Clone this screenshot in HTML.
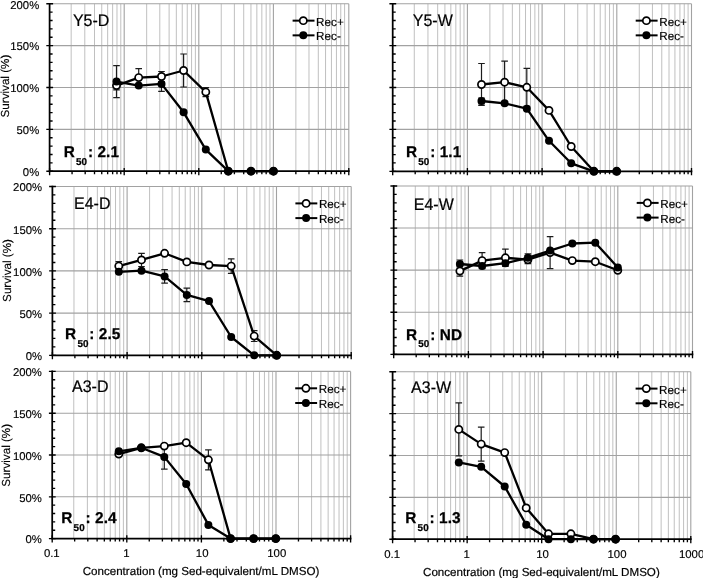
<!DOCTYPE html>
<html><head><meta charset="utf-8"><title>Survival curves</title>
<style>html,body{margin:0;padding:0;background:#fff}svg{display:block}</style></head>
<body>
<svg width="703" height="578" viewBox="0 0 703 578" font-family="'Liberation Sans', sans-serif" text-rendering="geometricPrecision">
<rect width="703" height="578" fill="#fff"/>
<g>
<path d="M71.16 3.75V171.2M84.79 3.75V171.2M94.51 3.75V171.2M101.74 3.75V171.2M107.65 3.75V171.2M112.64 3.75V171.2M116.97 3.75V171.2M120.79 3.75V171.2M146.66 3.75V171.2M159.79 3.75V171.2M169.11 3.75V171.2M176.34 3.75V171.2M182.25 3.75V171.2M187.24 3.75V171.2M191.57 3.75V171.2M195.39 3.75V171.2M221.26 3.75V171.2M234.39 3.75V171.2M243.71 3.75V171.2M250.94 3.75V171.2M256.85 3.75V171.2M261.84 3.75V171.2M266.17 3.75V171.2M269.99 3.75V171.2M295.86 3.75V171.2M308.99 3.75V171.2M318.31 3.75V171.2M325.54 3.75V171.2M331.45 3.75V171.2M336.44 3.75V171.2M340.77 3.75V171.2M344.59 3.75V171.2" stroke="#b9b9b9" stroke-width="0.9" fill="none"/>
<path d="M124.2 3.75V171.2M198.8 3.75V171.2M273.4 3.75V171.2M348.8 3.75V171.2M49.6 129.34H348.8M49.6 87.47H348.8M49.6 45.61H348.8M49.6 3.75H348.8" stroke="#a2a2a2" stroke-width="1.1" fill="none"/>
<path d="M49.6 2.95V172.2M48.6 171.2H349.6" stroke="#000" stroke-width="1.75" fill="none"/>
<path d="M46.3 171.2H53.1M49.6 162.83H52.6M49.6 154.45H52.6M49.6 146.08H52.6M49.6 137.71H52.6M46.3 129.34H53.1M49.6 120.96H52.6M49.6 112.59H52.6M49.6 104.22H52.6M49.6 95.85H52.6M46.3 87.47H53.1M49.6 79.1H52.6M49.6 70.73H52.6M49.6 62.36H52.6M49.6 53.98H52.6M46.3 45.61H53.1M49.6 37.24H52.6M49.6 28.87H52.6M49.6 20.5H52.6M49.6 12.12H52.6M46.3 3.75H53.1M49.6 167.9V175.2M72.06 171.2V174.2M85.19 171.2V174.2M94.51 171.2V174.2M101.74 171.2V174.2M107.65 171.2V174.2M112.64 171.2V174.2M116.97 171.2V174.2M120.79 171.2V174.2M124.2 167.9V175.2M146.66 171.2V174.2M159.79 171.2V174.2M169.11 171.2V174.2M176.34 171.2V174.2M182.25 171.2V174.2M187.24 171.2V174.2M191.57 171.2V174.2M195.39 171.2V174.2M198.8 167.9V175.2M221.26 171.2V174.2M234.39 171.2V174.2M243.71 171.2V174.2M250.94 171.2V174.2M256.85 171.2V174.2M261.84 171.2V174.2M266.17 171.2V174.2M269.99 171.2V174.2M273.4 167.9V175.2M295.86 171.2V174.2M308.99 171.2V174.2M318.31 171.2V174.2M325.54 171.2V174.2M331.45 171.2V174.2M336.44 171.2V174.2M340.77 171.2V174.2M344.59 171.2V174.2M348.8 167.9V175.2" stroke="#000" stroke-width="1.35" fill="none"/>
<text x="39.2" y="176" font-size="11.3" text-anchor="end" fill="#000" stroke="#000" stroke-width="0.15">0%</text>
<text x="39.2" y="134.14" font-size="11.3" text-anchor="end" fill="#000" stroke="#000" stroke-width="0.15">50%</text>
<text x="39.2" y="92.27" font-size="11.3" text-anchor="end" fill="#000" stroke="#000" stroke-width="0.15">100%</text>
<text x="39.2" y="50.41" font-size="11.3" text-anchor="end" fill="#000" stroke="#000" stroke-width="0.15">150%</text>
<text x="39.2" y="8.55" font-size="11.3" text-anchor="end" fill="#000" stroke="#000" stroke-width="0.15">200%</text>
<text transform="translate(8.6 86.07) rotate(-90)" font-size="11.65" text-anchor="middle" fill="#000" stroke="#000" stroke-width="0.15">Survival (%)</text>
<text transform="translate(72.9 26.3) scale(1,1.05)" font-size="16" fill="#000" stroke="#000" stroke-width="0.2">Y5-D</text>
<text transform="translate(63.75 157) scale(0.985,1)" font-size="15.6" font-weight="bold" letter-spacing="0.1" fill="#000" stroke="#000" stroke-width="0.25">R<tspan font-size="10" dy="7.6" dx="1.1">50</tspan><tspan dy="-7.6" dx="0.7">: 2.1</tspan></text>
<path d="M292.6 20.65H314.5" stroke="#000" stroke-width="2"/>
<circle cx="303.3" cy="20.65" r="3.6" fill="#fff" stroke="#000" stroke-width="1.7"/>
<text x="316.1" y="25.65" font-size="11.7" fill="#000" stroke="#000" stroke-width="0.15">Rec+</text>
<path d="M292.6 35.35H314.5" stroke="#000" stroke-width="2"/>
<circle cx="303.3" cy="35.35" r="4" fill="#000"/>
<text x="316.1" y="40.35" font-size="11.7" fill="#000" stroke="#000" stroke-width="0.15">Rec-</text>
<path d="M116.5 81.3V89.9M113.2 81.3H119.8M113.2 89.9H119.8M138.7 68.6V86.6M135.4 68.6H142M135.4 86.6H142M161.5 71.5V81.5M158.2 71.5H164.8M158.2 81.5H164.8M183.6 54V87M180.3 54H186.9M180.3 87H186.9M205.8 87.6V96.6M202.5 87.6H209.1M202.5 96.6H209.1M116.5 65.6V97.6M113.2 65.6H119.8M113.2 97.6H119.8M161.5 76.5V91.3M158.2 76.5H164.8M158.2 91.3H164.8" stroke="#1c1c1c" stroke-width="1.2" fill="none"/>
<polyline points="116.5,85.6 138.7,77.6 161.5,76.5 183.6,70.5 205.8,92.1 228.3,171.2 251,171.2 273.5,171.2" fill="none" stroke="#000" stroke-width="2.3" stroke-linejoin="round"/>
<circle cx="116.5" cy="85.6" r="3.6" fill="#fff" stroke="#000" stroke-width="1.7"/>
<circle cx="138.7" cy="77.6" r="3.6" fill="#fff" stroke="#000" stroke-width="1.7"/>
<circle cx="161.5" cy="76.5" r="3.6" fill="#fff" stroke="#000" stroke-width="1.7"/>
<circle cx="183.6" cy="70.5" r="3.6" fill="#fff" stroke="#000" stroke-width="1.7"/>
<circle cx="205.8" cy="92.1" r="3.6" fill="#fff" stroke="#000" stroke-width="1.7"/>
<circle cx="228.3" cy="171.2" r="3.6" fill="#fff" stroke="#000" stroke-width="1.7"/>
<circle cx="251" cy="171.2" r="3.6" fill="#fff" stroke="#000" stroke-width="1.7"/>
<circle cx="273.5" cy="171.2" r="3.6" fill="#fff" stroke="#000" stroke-width="1.7"/>
<polyline points="116.5,81.6 138.7,85.6 161.5,83.9 183.6,112.3 205.8,149.6 228.3,171.2 251,171.2 273.5,171.2" fill="none" stroke="#000" stroke-width="2.3" stroke-linejoin="round"/>
<circle cx="116.5" cy="81.6" r="4" fill="#000"/>
<circle cx="138.7" cy="85.6" r="4" fill="#000"/>
<circle cx="161.5" cy="83.9" r="4" fill="#000"/>
<circle cx="183.6" cy="112.3" r="4" fill="#000"/>
<circle cx="205.8" cy="149.6" r="4" fill="#000"/>
<circle cx="228.3" cy="171.2" r="4" fill="#000"/>
<circle cx="251" cy="171.2" r="4" fill="#000"/>
<circle cx="273.5" cy="171.2" r="4" fill="#000"/>
</g>
<g>
<path d="M414.29 3.75V171.3M427.94 3.75V171.3M437.67 3.75V171.3M444.91 3.75V171.3M450.83 3.75V171.3M455.83 3.75V171.3M460.16 3.75V171.3M463.98 3.75V171.3M489.89 3.75V171.3M503.04 3.75V171.3M512.37 3.75V171.3M519.61 3.75V171.3M525.53 3.75V171.3M530.53 3.75V171.3M534.86 3.75V171.3M538.68 3.75V171.3M564.59 3.75V171.3M577.74 3.75V171.3M587.07 3.75V171.3M594.31 3.75V171.3M600.23 3.75V171.3M605.23 3.75V171.3M609.56 3.75V171.3M613.38 3.75V171.3M639.29 3.75V171.3M652.44 3.75V171.3M661.77 3.75V171.3M669.01 3.75V171.3M674.93 3.75V171.3M679.93 3.75V171.3M684.26 3.75V171.3M688.08 3.75V171.3" stroke="#b9b9b9" stroke-width="0.9" fill="none"/>
<path d="M467.4 3.75V171.3M542.1 3.75V171.3M616.8 3.75V171.3M691.5 3.75V171.3M392.7 129.41H691.5M392.7 87.53H691.5M392.7 45.64H691.5M392.7 3.75H691.5" stroke="#a2a2a2" stroke-width="1.1" fill="none"/>
<path d="M392.7 2.95V172.3M391.7 171.3H692.3" stroke="#000" stroke-width="1.75" fill="none"/>
<path d="M389.4 171.3H396.2M392.7 162.92H395.7M392.7 154.55H395.7M392.7 146.17H395.7M392.7 137.79H395.7M389.4 129.41H396.2M392.7 121.04H395.7M392.7 112.66H395.7M392.7 104.28H395.7M392.7 95.9H395.7M389.4 87.53H396.2M392.7 79.15H395.7M392.7 70.77H395.7M392.7 62.39H395.7M392.7 54.02H395.7M389.4 45.64H396.2M392.7 37.26H395.7M392.7 28.88H395.7M392.7 20.5H395.7M392.7 12.13H395.7M389.4 3.75H396.2M392.7 168V175.3M415.19 171.3V174.3M428.34 171.3V174.3M437.67 171.3V174.3M444.91 171.3V174.3M450.83 171.3V174.3M455.83 171.3V174.3M460.16 171.3V174.3M463.98 171.3V174.3M467.4 168V175.3M489.89 171.3V174.3M503.04 171.3V174.3M512.37 171.3V174.3M519.61 171.3V174.3M525.53 171.3V174.3M530.53 171.3V174.3M534.86 171.3V174.3M538.68 171.3V174.3M542.1 168V175.3M564.59 171.3V174.3M577.74 171.3V174.3M587.07 171.3V174.3M594.31 171.3V174.3M600.23 171.3V174.3M605.23 171.3V174.3M609.56 171.3V174.3M613.38 171.3V174.3M616.8 168V175.3M639.29 171.3V174.3M652.44 171.3V174.3M661.77 171.3V174.3M669.01 171.3V174.3M674.93 171.3V174.3M679.93 171.3V174.3M684.26 171.3V174.3M688.08 171.3V174.3M691.5 168V175.3" stroke="#000" stroke-width="1.35" fill="none"/>
<text transform="translate(412.8 26.3) scale(1,1.05)" font-size="16" fill="#000" stroke="#000" stroke-width="0.2">Y5-W</text>
<text transform="translate(406 157) scale(0.985,1)" font-size="15.6" font-weight="bold" letter-spacing="0.1" fill="#000" stroke="#000" stroke-width="0.25">R<tspan font-size="10" dy="7.6" dx="1.1">50</tspan><tspan dy="-7.6" dx="0.7">: 1.1</tspan></text>
<path d="M635.7 20.65H657.6" stroke="#000" stroke-width="2"/>
<circle cx="646.4" cy="20.65" r="3.6" fill="#fff" stroke="#000" stroke-width="1.7"/>
<text x="659.2" y="25.65" font-size="11.7" fill="#000" stroke="#000" stroke-width="0.15">Rec+</text>
<path d="M635.7 35.35H657.6" stroke="#000" stroke-width="2"/>
<circle cx="646.4" cy="35.35" r="4" fill="#000"/>
<text x="659.2" y="40.35" font-size="11.7" fill="#000" stroke="#000" stroke-width="0.15">Rec-</text>
<path d="M481.5 63.5V105.5M478.2 63.5H484.8M478.2 105.5H484.8M504.6 61.2V103.2M501.3 61.2H507.9M501.3 103.2H507.9M526.8 68.3V106.3M523.5 68.3H530.1M523.5 106.3H530.1M481.5 98V104M478.2 98H484.8M478.2 104H484.8" stroke="#1c1c1c" stroke-width="1.2" fill="none"/>
<polyline points="481.5,84.5 504.6,82.2 526.8,87.3 549,110.4 571.2,146.5 593.9,171.3 616.7,171.3" fill="none" stroke="#000" stroke-width="2.3" stroke-linejoin="round"/>
<circle cx="481.5" cy="84.5" r="3.6" fill="#fff" stroke="#000" stroke-width="1.7"/>
<circle cx="504.6" cy="82.2" r="3.6" fill="#fff" stroke="#000" stroke-width="1.7"/>
<circle cx="526.8" cy="87.3" r="3.6" fill="#fff" stroke="#000" stroke-width="1.7"/>
<circle cx="549" cy="110.4" r="3.6" fill="#fff" stroke="#000" stroke-width="1.7"/>
<circle cx="571.2" cy="146.5" r="3.6" fill="#fff" stroke="#000" stroke-width="1.7"/>
<circle cx="593.9" cy="171.3" r="3.6" fill="#fff" stroke="#000" stroke-width="1.7"/>
<circle cx="616.7" cy="171.3" r="3.6" fill="#fff" stroke="#000" stroke-width="1.7"/>
<polyline points="481.5,101 504.6,103.3 526.8,108.7 549,140.8 571.2,163.3 593.9,171.3 616.7,171.3" fill="none" stroke="#000" stroke-width="2.3" stroke-linejoin="round"/>
<circle cx="481.5" cy="101" r="4" fill="#000"/>
<circle cx="504.6" cy="103.3" r="4" fill="#000"/>
<circle cx="526.8" cy="108.7" r="4" fill="#000"/>
<circle cx="549" cy="140.8" r="4" fill="#000"/>
<circle cx="571.2" cy="163.3" r="4" fill="#000"/>
<circle cx="593.9" cy="171.3" r="4" fill="#000"/>
<circle cx="616.7" cy="171.3" r="4" fill="#000"/>
</g>
<g>
<path d="M73.99 186.5V355.3M87.64 186.5V355.3M97.37 186.5V355.3M104.61 186.5V355.3M110.53 186.5V355.3M115.53 186.5V355.3M119.86 186.5V355.3M123.68 186.5V355.3M149.59 186.5V355.3M162.74 186.5V355.3M172.07 186.5V355.3M179.31 186.5V355.3M185.23 186.5V355.3M190.23 186.5V355.3M194.56 186.5V355.3M198.38 186.5V355.3M224.29 186.5V355.3M237.44 186.5V355.3M246.77 186.5V355.3M254.01 186.5V355.3M259.93 186.5V355.3M264.93 186.5V355.3M269.26 186.5V355.3M273.08 186.5V355.3M298.99 186.5V355.3M312.14 186.5V355.3M321.47 186.5V355.3M328.71 186.5V355.3M334.63 186.5V355.3M339.63 186.5V355.3M343.96 186.5V355.3M347.78 186.5V355.3" stroke="#b9b9b9" stroke-width="0.9" fill="none"/>
<path d="M127.1 186.5V355.3M201.8 186.5V355.3M276.5 186.5V355.3M351.2 186.5V355.3M52.4 313.1H351.2M52.4 270.9H351.2M52.4 228.7H351.2M52.4 186.5H351.2" stroke="#a2a2a2" stroke-width="1.1" fill="none"/>
<path d="M52.4 185.7V356.3M51.4 355.3H352" stroke="#000" stroke-width="1.75" fill="none"/>
<path d="M49.1 355.3H55.9M52.4 346.86H55.4M52.4 338.42H55.4M52.4 329.98H55.4M52.4 321.54H55.4M49.1 313.1H55.9M52.4 304.66H55.4M52.4 296.22H55.4M52.4 287.78H55.4M52.4 279.34H55.4M49.1 270.9H55.9M52.4 262.46H55.4M52.4 254.02H55.4M52.4 245.58H55.4M52.4 237.14H55.4M49.1 228.7H55.9M52.4 220.26H55.4M52.4 211.82H55.4M52.4 203.38H55.4M52.4 194.94H55.4M49.1 186.5H55.9M52.4 352V359.3M74.89 355.3V358.3M88.04 355.3V358.3M97.37 355.3V358.3M104.61 355.3V358.3M110.53 355.3V358.3M115.53 355.3V358.3M119.86 355.3V358.3M123.68 355.3V358.3M127.1 352V359.3M149.59 355.3V358.3M162.74 355.3V358.3M172.07 355.3V358.3M179.31 355.3V358.3M185.23 355.3V358.3M190.23 355.3V358.3M194.56 355.3V358.3M198.38 355.3V358.3M201.8 352V359.3M224.29 355.3V358.3M237.44 355.3V358.3M246.77 355.3V358.3M254.01 355.3V358.3M259.93 355.3V358.3M264.93 355.3V358.3M269.26 355.3V358.3M273.08 355.3V358.3M276.5 352V359.3M298.99 355.3V358.3M312.14 355.3V358.3M321.47 355.3V358.3M328.71 355.3V358.3M334.63 355.3V358.3M339.63 355.3V358.3M343.96 355.3V358.3M347.78 355.3V358.3M351.2 352V359.3" stroke="#000" stroke-width="1.35" fill="none"/>
<text x="42" y="360.1" font-size="11.3" text-anchor="end" fill="#000" stroke="#000" stroke-width="0.15">0%</text>
<text x="42" y="317.9" font-size="11.3" text-anchor="end" fill="#000" stroke="#000" stroke-width="0.15">50%</text>
<text x="42" y="275.7" font-size="11.3" text-anchor="end" fill="#000" stroke="#000" stroke-width="0.15">100%</text>
<text x="42" y="233.5" font-size="11.3" text-anchor="end" fill="#000" stroke="#000" stroke-width="0.15">150%</text>
<text x="42" y="191.3" font-size="11.3" text-anchor="end" fill="#000" stroke="#000" stroke-width="0.15">200%</text>
<text transform="translate(11.4 270.5) rotate(-90)" font-size="11.65" text-anchor="middle" fill="#000" stroke="#000" stroke-width="0.15">Survival (%)</text>
<text transform="translate(74 209) scale(1,1.05)" font-size="16" fill="#000" stroke="#000" stroke-width="0.2">E4-D</text>
<text transform="translate(65.1 339) scale(0.985,1)" font-size="15.6" font-weight="bold" letter-spacing="0.1" fill="#000" stroke="#000" stroke-width="0.25">R<tspan font-size="10" dy="7.6" dx="1.1">50</tspan><tspan dy="-7.6" dx="0.7">: 2.5</tspan></text>
<path d="M295.4 203.4H317.3" stroke="#000" stroke-width="2"/>
<circle cx="306.1" cy="203.4" r="3.6" fill="#fff" stroke="#000" stroke-width="1.7"/>
<text x="318.9" y="208.4" font-size="11.7" fill="#000" stroke="#000" stroke-width="0.15">Rec+</text>
<path d="M295.4 218.1H317.3" stroke="#000" stroke-width="2"/>
<circle cx="306.1" cy="218.1" r="4" fill="#000"/>
<text x="318.9" y="223.1" font-size="11.7" fill="#000" stroke="#000" stroke-width="0.15">Rec-</text>
<path d="M118.8 261.6V270.6M115.5 261.6H122.1M115.5 270.6H122.1M141.5 253.3V266.5M138.2 253.3H144.8M138.2 266.5H144.8M231.2 258.9V273.3M227.9 258.9H234.5M227.9 273.3H234.5M254.2 330.7V341.5M250.9 330.7H257.5M250.9 341.5H257.5M164.6 269.7V283.1M161.3 269.7H167.9M161.3 283.1H167.9M186.8 288.2V301.6M183.5 288.2H190.1M183.5 301.6H190.1" stroke="#1c1c1c" stroke-width="1.2" fill="none"/>
<polyline points="118.8,266.1 141.5,259.9 164.6,253.3 186.8,261.9 209,265 231.2,266.1 254.2,336.1 276.7,355.3" fill="none" stroke="#000" stroke-width="2.3" stroke-linejoin="round"/>
<circle cx="118.8" cy="266.1" r="3.6" fill="#fff" stroke="#000" stroke-width="1.7"/>
<circle cx="141.5" cy="259.9" r="3.6" fill="#fff" stroke="#000" stroke-width="1.7"/>
<circle cx="164.6" cy="253.3" r="3.6" fill="#fff" stroke="#000" stroke-width="1.7"/>
<circle cx="186.8" cy="261.9" r="3.6" fill="#fff" stroke="#000" stroke-width="1.7"/>
<circle cx="209" cy="265" r="3.6" fill="#fff" stroke="#000" stroke-width="1.7"/>
<circle cx="231.2" cy="266.1" r="3.6" fill="#fff" stroke="#000" stroke-width="1.7"/>
<circle cx="254.2" cy="336.1" r="3.6" fill="#fff" stroke="#000" stroke-width="1.7"/>
<circle cx="276.7" cy="355.3" r="3.6" fill="#fff" stroke="#000" stroke-width="1.7"/>
<polyline points="118.8,271.8 141.5,270.7 164.6,276.4 186.8,294.9 209,301.1 231.2,337 254.2,355.3 276.7,355.3" fill="none" stroke="#000" stroke-width="2.3" stroke-linejoin="round"/>
<circle cx="118.8" cy="271.8" r="4" fill="#000"/>
<circle cx="141.5" cy="270.7" r="4" fill="#000"/>
<circle cx="164.6" cy="276.4" r="4" fill="#000"/>
<circle cx="186.8" cy="294.9" r="4" fill="#000"/>
<circle cx="209" cy="301.1" r="4" fill="#000"/>
<circle cx="231.2" cy="337" r="4" fill="#000"/>
<circle cx="254.2" cy="355.3" r="4" fill="#000"/>
<circle cx="276.7" cy="355.3" r="4" fill="#000"/>
</g>
<g>
<path d="M415.29 186V354.3M428.94 186V354.3M438.67 186V354.3M445.91 186V354.3M451.83 186V354.3M456.83 186V354.3M461.16 186V354.3M464.98 186V354.3M490.89 186V354.3M504.04 186V354.3M513.37 186V354.3M520.61 186V354.3M526.53 186V354.3M531.53 186V354.3M535.86 186V354.3M539.68 186V354.3M565.59 186V354.3M578.74 186V354.3M588.07 186V354.3M595.31 186V354.3M601.23 186V354.3M606.23 186V354.3M610.56 186V354.3M614.38 186V354.3M640.29 186V354.3M653.44 186V354.3M662.77 186V354.3M670.01 186V354.3M675.93 186V354.3M680.93 186V354.3M685.26 186V354.3M689.08 186V354.3" stroke="#b9b9b9" stroke-width="0.9" fill="none"/>
<path d="M468.4 186V354.3M543.1 186V354.3M617.8 186V354.3M692.5 186V354.3M393.7 312.23H692.5M393.7 270.15H692.5M393.7 228.07H692.5M393.7 186H692.5" stroke="#a2a2a2" stroke-width="1.1" fill="none"/>
<path d="M393.7 185.2V355.3M392.7 354.3H693.3" stroke="#000" stroke-width="1.75" fill="none"/>
<path d="M390.4 354.3H397.2M393.7 345.88H396.7M393.7 337.47H396.7M393.7 329.06H396.7M393.7 320.64H396.7M390.4 312.23H397.2M393.7 303.81H396.7M393.7 295.39H396.7M393.7 286.98H396.7M393.7 278.56H396.7M390.4 270.15H397.2M393.7 261.74H396.7M393.7 253.32H396.7M393.7 244.91H396.7M393.7 236.49H396.7M390.4 228.08H397.2M393.7 219.66H396.7M393.7 211.25H396.7M393.7 202.83H396.7M393.7 194.41H396.7M390.4 186H397.2M393.7 351V358.3M416.19 354.3V357.3M429.34 354.3V357.3M438.67 354.3V357.3M445.91 354.3V357.3M451.83 354.3V357.3M456.83 354.3V357.3M461.16 354.3V357.3M464.98 354.3V357.3M468.4 351V358.3M490.89 354.3V357.3M504.04 354.3V357.3M513.37 354.3V357.3M520.61 354.3V357.3M526.53 354.3V357.3M531.53 354.3V357.3M535.86 354.3V357.3M539.68 354.3V357.3M543.1 351V358.3M565.59 354.3V357.3M578.74 354.3V357.3M588.07 354.3V357.3M595.31 354.3V357.3M601.23 354.3V357.3M606.23 354.3V357.3M610.56 354.3V357.3M614.38 354.3V357.3M617.8 351V358.3M640.29 354.3V357.3M653.44 354.3V357.3M662.77 354.3V357.3M670.01 354.3V357.3M675.93 354.3V357.3M680.93 354.3V357.3M685.26 354.3V357.3M689.08 354.3V357.3M692.5 351V358.3" stroke="#000" stroke-width="1.35" fill="none"/>
<text transform="translate(413.8 209.6) scale(1,1.05)" font-size="16" fill="#000" stroke="#000" stroke-width="0.2">E4-W</text>
<text transform="translate(406 339.6) scale(0.985,1)" font-size="15.6" font-weight="bold" letter-spacing="0.1" fill="#000" stroke="#000" stroke-width="0.25">R<tspan font-size="10" dy="7.6" dx="1.1">50</tspan><tspan dy="-7.6" dx="0.7">: ND</tspan></text>
<path d="M636.7 202.9H658.6" stroke="#000" stroke-width="2"/>
<circle cx="647.4" cy="202.9" r="3.6" fill="#fff" stroke="#000" stroke-width="1.7"/>
<text x="660.2" y="207.9" font-size="11.7" fill="#000" stroke="#000" stroke-width="0.15">Rec+</text>
<path d="M636.7 217.6H658.6" stroke="#000" stroke-width="2"/>
<circle cx="647.4" cy="217.6" r="4" fill="#000"/>
<text x="660.2" y="222.6" font-size="11.7" fill="#000" stroke="#000" stroke-width="0.15">Rec-</text>
<path d="M459.9 266.1V276.1M456.6 266.1H463.2M456.6 276.1H463.2M482.1 252.6V268.6M478.8 252.6H485.4M478.8 268.6H485.4M505.4 249.2V266.4M502.1 249.2H508.7M502.1 266.4H508.7M527.9 255.7V263.7M524.6 255.7H531.2M524.6 263.7H531.2M550.1 236.6V268.6M546.8 236.6H553.4M546.8 268.6H553.4M459.9 260V268M456.6 260H463.2M456.6 268H463.2M527.9 253.8V261.8M524.6 253.8H531.2M524.6 261.8H531.2" stroke="#1c1c1c" stroke-width="1.2" fill="none"/>
<polyline points="459.9,271.1 482.1,260.6 505.4,257.8 527.9,259.7 550.1,252.6 572.3,260.6 595.3,261.7 617.8,270.3" fill="none" stroke="#000" stroke-width="2.3" stroke-linejoin="round"/>
<circle cx="459.9" cy="271.1" r="3.6" fill="#fff" stroke="#000" stroke-width="1.7"/>
<circle cx="482.1" cy="260.6" r="3.6" fill="#fff" stroke="#000" stroke-width="1.7"/>
<circle cx="505.4" cy="257.8" r="3.6" fill="#fff" stroke="#000" stroke-width="1.7"/>
<circle cx="527.9" cy="259.7" r="3.6" fill="#fff" stroke="#000" stroke-width="1.7"/>
<circle cx="550.1" cy="252.6" r="3.6" fill="#fff" stroke="#000" stroke-width="1.7"/>
<circle cx="572.3" cy="260.6" r="3.6" fill="#fff" stroke="#000" stroke-width="1.7"/>
<circle cx="595.3" cy="261.7" r="3.6" fill="#fff" stroke="#000" stroke-width="1.7"/>
<circle cx="617.8" cy="270.3" r="3.6" fill="#fff" stroke="#000" stroke-width="1.7"/>
<polyline points="459.9,264 482.1,266 505.4,263.2 527.9,257.8 550.1,250.6 572.3,243.5 595.3,242.7 617.8,267.4" fill="none" stroke="#000" stroke-width="2.3" stroke-linejoin="round"/>
<circle cx="459.9" cy="264" r="4" fill="#000"/>
<circle cx="482.1" cy="266" r="4" fill="#000"/>
<circle cx="505.4" cy="263.2" r="4" fill="#000"/>
<circle cx="527.9" cy="257.8" r="4" fill="#000"/>
<circle cx="550.1" cy="250.6" r="4" fill="#000"/>
<circle cx="572.3" cy="243.5" r="4" fill="#000"/>
<circle cx="595.3" cy="242.7" r="4" fill="#000"/>
<circle cx="617.8" cy="267.4" r="4" fill="#000"/>
</g>
<g>
<path d="M73.76 371.4V538.6M87.39 371.4V538.6M97.11 371.4V538.6M104.34 371.4V538.6M110.25 371.4V538.6M115.24 371.4V538.6M119.57 371.4V538.6M123.39 371.4V538.6M149.26 371.4V538.6M162.39 371.4V538.6M171.71 371.4V538.6M178.94 371.4V538.6M184.85 371.4V538.6M189.84 371.4V538.6M194.17 371.4V538.6M197.99 371.4V538.6M223.86 371.4V538.6M236.99 371.4V538.6M246.31 371.4V538.6M253.54 371.4V538.6M259.45 371.4V538.6M264.44 371.4V538.6M268.77 371.4V538.6M272.59 371.4V538.6M298.46 371.4V538.6M311.59 371.4V538.6M320.91 371.4V538.6M328.14 371.4V538.6M334.05 371.4V538.6M339.04 371.4V538.6M343.37 371.4V538.6M347.19 371.4V538.6" stroke="#b9b9b9" stroke-width="0.9" fill="none"/>
<path d="M126.8 371.4V538.6M201.4 371.4V538.6M276 371.4V538.6M350.6 371.4V538.6M52.2 496.8H350.6M52.2 455H350.6M52.2 413.2H350.6M52.2 371.4H350.6" stroke="#a2a2a2" stroke-width="1.1" fill="none"/>
<path d="M52.2 370.6V539.6M51.2 538.6H351.4" stroke="#000" stroke-width="1.75" fill="none"/>
<path d="M48.9 538.6H55.7M52.2 530.24H55.2M52.2 521.88H55.2M52.2 513.52H55.2M52.2 505.16H55.2M48.9 496.8H55.7M52.2 488.44H55.2M52.2 480.08H55.2M52.2 471.72H55.2M52.2 463.36H55.2M48.9 455H55.7M52.2 446.64H55.2M52.2 438.28H55.2M52.2 429.92H55.2M52.2 421.56H55.2M48.9 413.2H55.7M52.2 404.84H55.2M52.2 396.48H55.2M52.2 388.12H55.2M52.2 379.76H55.2M48.9 371.4H55.7M52.2 535.3V542.6M74.66 538.6V541.6M87.79 538.6V541.6M97.11 538.6V541.6M104.34 538.6V541.6M110.25 538.6V541.6M115.24 538.6V541.6M119.57 538.6V541.6M123.39 538.6V541.6M126.8 535.3V542.6M149.26 538.6V541.6M162.39 538.6V541.6M171.71 538.6V541.6M178.94 538.6V541.6M184.85 538.6V541.6M189.84 538.6V541.6M194.17 538.6V541.6M197.99 538.6V541.6M201.4 535.3V542.6M223.86 538.6V541.6M236.99 538.6V541.6M246.31 538.6V541.6M253.54 538.6V541.6M259.45 538.6V541.6M264.44 538.6V541.6M268.77 538.6V541.6M272.59 538.6V541.6M276 535.3V542.6M298.46 538.6V541.6M311.59 538.6V541.6M320.91 538.6V541.6M328.14 538.6V541.6M334.05 538.6V541.6M339.04 538.6V541.6M343.37 538.6V541.6M347.19 538.6V541.6M350.6 535.3V542.6" stroke="#000" stroke-width="1.35" fill="none"/>
<text x="41.8" y="543.4" font-size="11.3" text-anchor="end" fill="#000" stroke="#000" stroke-width="0.15">0%</text>
<text x="41.8" y="501.6" font-size="11.3" text-anchor="end" fill="#000" stroke="#000" stroke-width="0.15">50%</text>
<text x="41.8" y="459.8" font-size="11.3" text-anchor="end" fill="#000" stroke="#000" stroke-width="0.15">100%</text>
<text x="41.8" y="418" font-size="11.3" text-anchor="end" fill="#000" stroke="#000" stroke-width="0.15">150%</text>
<text x="41.8" y="376.2" font-size="11.3" text-anchor="end" fill="#000" stroke="#000" stroke-width="0.15">200%</text>
<text transform="translate(10.2 455.3) rotate(-90)" font-size="11.65" text-anchor="middle" fill="#000" stroke="#000" stroke-width="0.15">Survival (%)</text>
<text transform="translate(72 392) scale(1,1.05)" font-size="16" fill="#000" stroke="#000" stroke-width="0.2">A3-D</text>
<text transform="translate(61.3 523) scale(0.985,1)" font-size="15.6" font-weight="bold" letter-spacing="0.1" fill="#000" stroke="#000" stroke-width="0.25">R<tspan font-size="10" dy="7.6" dx="1.1">50</tspan><tspan dy="-7.6" dx="0.7">: 2.4</tspan></text>
<path d="M295.2 388.3H317.1" stroke="#000" stroke-width="2"/>
<circle cx="305.9" cy="388.3" r="3.6" fill="#fff" stroke="#000" stroke-width="1.7"/>
<text x="318.7" y="393.3" font-size="11.7" fill="#000" stroke="#000" stroke-width="0.15">Rec+</text>
<path d="M295.2 403H317.1" stroke="#000" stroke-width="2"/>
<circle cx="305.9" cy="403" r="4" fill="#000"/>
<text x="318.7" y="408" font-size="11.7" fill="#000" stroke="#000" stroke-width="0.15">Rec-</text>
<path d="M208.4 449.8V469.8M205.1 449.8H211.7M205.1 469.8H211.7M164.3 444.6V469.2M161 444.6H167.6M161 469.2H167.6" stroke="#1c1c1c" stroke-width="1.2" fill="none"/>
<polyline points="118.8,454.1 141.3,447.8 164.3,446.1 186.2,442.7 208.4,459.8 230.6,538.6 253.6,538.6 275.8,538.6" fill="none" stroke="#000" stroke-width="2.3" stroke-linejoin="round"/>
<circle cx="118.8" cy="454.1" r="3.6" fill="#fff" stroke="#000" stroke-width="1.7"/>
<circle cx="141.3" cy="447.8" r="3.6" fill="#fff" stroke="#000" stroke-width="1.7"/>
<circle cx="164.3" cy="446.1" r="3.6" fill="#fff" stroke="#000" stroke-width="1.7"/>
<circle cx="186.2" cy="442.7" r="3.6" fill="#fff" stroke="#000" stroke-width="1.7"/>
<circle cx="208.4" cy="459.8" r="3.6" fill="#fff" stroke="#000" stroke-width="1.7"/>
<circle cx="230.6" cy="538.6" r="3.6" fill="#fff" stroke="#000" stroke-width="1.7"/>
<circle cx="253.6" cy="538.6" r="3.6" fill="#fff" stroke="#000" stroke-width="1.7"/>
<circle cx="275.8" cy="538.6" r="3.6" fill="#fff" stroke="#000" stroke-width="1.7"/>
<polyline points="118.8,451.3 141.3,447.8 164.3,456.9 186.2,484 208.4,524.9 230.6,538.6 253.6,538.6 275.8,538.6" fill="none" stroke="#000" stroke-width="2.3" stroke-linejoin="round"/>
<circle cx="118.8" cy="451.3" r="4" fill="#000"/>
<circle cx="141.3" cy="447.8" r="4" fill="#000"/>
<circle cx="164.3" cy="456.9" r="4" fill="#000"/>
<circle cx="186.2" cy="484" r="4" fill="#000"/>
<circle cx="208.4" cy="524.9" r="4" fill="#000"/>
<circle cx="230.6" cy="538.6" r="4" fill="#000"/>
<circle cx="253.6" cy="538.6" r="4" fill="#000"/>
<circle cx="275.8" cy="538.6" r="4" fill="#000"/>
<text x="51.8" y="556.6" font-size="11.4" text-anchor="middle" fill="#000" stroke="#000" stroke-width="0.15">0.1</text>
<text x="126.4" y="556.6" font-size="11.4" text-anchor="middle" fill="#000" stroke="#000" stroke-width="0.15">1</text>
<text x="202.2" y="556.6" font-size="11.4" text-anchor="middle" fill="#000" stroke="#000" stroke-width="0.15">10</text>
<text x="276.8" y="556.6" font-size="11.4" text-anchor="middle" fill="#000" stroke="#000" stroke-width="0.15">100</text>
<text x="201" y="575" font-size="11.6" text-anchor="middle" fill="#000" stroke="#000" stroke-width="0.2">Concentration (mg Sed-equivalent/mL DMSO)</text>
</g>
<g>
<path d="M414.14 371.7V539.2M427.77 371.7V539.2M437.48 371.7V539.2M444.71 371.7V539.2M450.61 371.7V539.2M455.6 371.7V539.2M459.93 371.7V539.2M463.74 371.7V539.2M489.59 371.7V539.2M502.72 371.7V539.2M512.03 371.7V539.2M519.26 371.7V539.2M525.16 371.7V539.2M530.15 371.7V539.2M534.48 371.7V539.2M538.29 371.7V539.2M564.14 371.7V539.2M577.27 371.7V539.2M586.58 371.7V539.2M593.81 371.7V539.2M599.71 371.7V539.2M604.7 371.7V539.2M609.03 371.7V539.2M612.84 371.7V539.2M638.69 371.7V539.2M651.82 371.7V539.2M661.13 371.7V539.2M668.36 371.7V539.2M674.26 371.7V539.2M679.25 371.7V539.2M683.58 371.7V539.2M687.39 371.7V539.2" stroke="#b9b9b9" stroke-width="0.9" fill="none"/>
<path d="M467.15 371.7V539.2M541.7 371.7V539.2M616.25 371.7V539.2M690.8 371.7V539.2M392.6 497.33H690.8M392.6 455.45H690.8M392.6 413.57H690.8M392.6 371.7H690.8" stroke="#a2a2a2" stroke-width="1.1" fill="none"/>
<path d="M392.6 370.9V540.2M391.6 539.2H691.6" stroke="#000" stroke-width="1.75" fill="none"/>
<path d="M389.3 539.2H396.1M392.6 530.83H395.6M392.6 522.45H395.6M392.6 514.08H395.6M392.6 505.7H395.6M389.3 497.33H396.1M392.6 488.95H395.6M392.6 480.58H395.6M392.6 472.2H395.6M392.6 463.83H395.6M389.3 455.45H396.1M392.6 447.08H395.6M392.6 438.7H395.6M392.6 430.32H395.6M392.6 421.95H395.6M389.3 413.57H396.1M392.6 405.2H395.6M392.6 396.82H395.6M392.6 388.45H395.6M392.6 380.07H395.6M389.3 371.7H396.1M392.6 535.9V543.2M415.04 539.2V542.2M428.17 539.2V542.2M437.48 539.2V542.2M444.71 539.2V542.2M450.61 539.2V542.2M455.6 539.2V542.2M459.93 539.2V542.2M463.74 539.2V542.2M467.15 535.9V543.2M489.59 539.2V542.2M502.72 539.2V542.2M512.03 539.2V542.2M519.26 539.2V542.2M525.16 539.2V542.2M530.15 539.2V542.2M534.48 539.2V542.2M538.29 539.2V542.2M541.7 535.9V543.2M564.14 539.2V542.2M577.27 539.2V542.2M586.58 539.2V542.2M593.81 539.2V542.2M599.71 539.2V542.2M604.7 539.2V542.2M609.03 539.2V542.2M612.84 539.2V542.2M616.25 535.9V543.2M638.69 539.2V542.2M651.82 539.2V542.2M661.13 539.2V542.2M668.36 539.2V542.2M674.26 539.2V542.2M679.25 539.2V542.2M683.58 539.2V542.2M687.39 539.2V542.2M690.8 535.9V543.2" stroke="#000" stroke-width="1.35" fill="none"/>
<text transform="translate(411.1 392.6) scale(1,1.05)" font-size="16" fill="#000" stroke="#000" stroke-width="0.2">A3-W</text>
<text transform="translate(405.3 523.4) scale(0.985,1)" font-size="15.6" font-weight="bold" letter-spacing="0.1" fill="#000" stroke="#000" stroke-width="0.25">R<tspan font-size="10" dy="7.6" dx="1.1">50</tspan><tspan dy="-7.6" dx="0.7">: 1.3</tspan></text>
<path d="M635.6 388.6H657.5" stroke="#000" stroke-width="2"/>
<circle cx="646.3" cy="388.6" r="3.6" fill="#fff" stroke="#000" stroke-width="1.7"/>
<text x="659.1" y="393.6" font-size="11.7" fill="#000" stroke="#000" stroke-width="0.15">Rec+</text>
<path d="M635.6 403.3H657.5" stroke="#000" stroke-width="2"/>
<circle cx="646.3" cy="403.3" r="4" fill="#000"/>
<text x="659.1" y="408.3" font-size="11.7" fill="#000" stroke="#000" stroke-width="0.15">Rec-</text>
<path d="M458.8 402.9V455.9M455.5 402.9H462.1M455.5 455.9H462.1M481.2 427.1V461.1M477.9 427.1H484.5M477.9 461.1H484.5" stroke="#1c1c1c" stroke-width="1.2" fill="none"/>
<polyline points="458.8,429.4 481.2,444.1 504.7,452.6 526.2,507.9 548.5,533.8 570.9,533.8 593.5,539.2 615.6,539.2" fill="none" stroke="#000" stroke-width="2.3" stroke-linejoin="round"/>
<circle cx="458.8" cy="429.4" r="3.6" fill="#fff" stroke="#000" stroke-width="1.7"/>
<circle cx="481.2" cy="444.1" r="3.6" fill="#fff" stroke="#000" stroke-width="1.7"/>
<circle cx="504.7" cy="452.6" r="3.6" fill="#fff" stroke="#000" stroke-width="1.7"/>
<circle cx="526.2" cy="507.9" r="3.6" fill="#fff" stroke="#000" stroke-width="1.7"/>
<circle cx="548.5" cy="533.8" r="3.6" fill="#fff" stroke="#000" stroke-width="1.7"/>
<circle cx="570.9" cy="533.8" r="3.6" fill="#fff" stroke="#000" stroke-width="1.7"/>
<circle cx="593.5" cy="539.2" r="3.6" fill="#fff" stroke="#000" stroke-width="1.7"/>
<circle cx="615.6" cy="539.2" r="3.6" fill="#fff" stroke="#000" stroke-width="1.7"/>
<polyline points="458.8,462.4 481.2,466.8 504.7,486.5 526.2,524.7 548.5,539.2 570.9,539.2 593.5,539.2 615.6,539.2" fill="none" stroke="#000" stroke-width="2.3" stroke-linejoin="round"/>
<circle cx="458.8" cy="462.4" r="4" fill="#000"/>
<circle cx="481.2" cy="466.8" r="4" fill="#000"/>
<circle cx="504.7" cy="486.5" r="4" fill="#000"/>
<circle cx="526.2" cy="524.7" r="4" fill="#000"/>
<circle cx="548.5" cy="539.2" r="4" fill="#000"/>
<circle cx="570.9" cy="539.2" r="4" fill="#000"/>
<circle cx="593.5" cy="539.2" r="4" fill="#000"/>
<circle cx="615.6" cy="539.2" r="4" fill="#000"/>
<text x="392.2" y="557.8" font-size="11.4" text-anchor="middle" fill="#000" stroke="#000" stroke-width="0.15">0.1</text>
<text x="466.75" y="557.8" font-size="11.4" text-anchor="middle" fill="#000" stroke="#000" stroke-width="0.15">1</text>
<text x="542.5" y="557.8" font-size="11.4" text-anchor="middle" fill="#000" stroke="#000" stroke-width="0.15">10</text>
<text x="617.05" y="557.8" font-size="11.4" text-anchor="middle" fill="#000" stroke="#000" stroke-width="0.15">100</text>
<text x="691.6" y="557.8" font-size="11.4" text-anchor="middle" fill="#000" stroke="#000" stroke-width="0.15">1000</text>
<text x="541.4" y="575.6" font-size="11.6" text-anchor="middle" fill="#000" stroke="#000" stroke-width="0.2">Concentration (mg Sed-equivalent/mL DMSO)</text>
</g>
</svg>
</body></html>
